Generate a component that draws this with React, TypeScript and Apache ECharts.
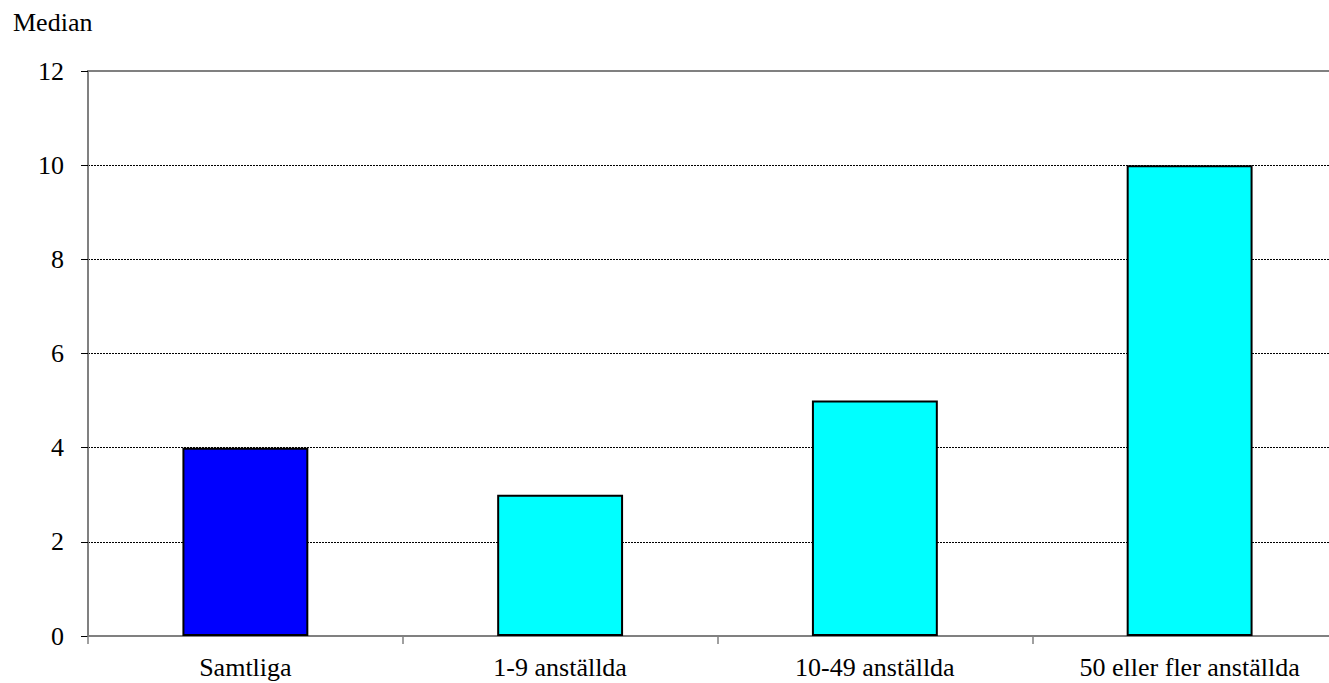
import React, { useEffect, useRef } from "react";
import * as echarts from "echarts";

const categories = ["Samtliga", "1-9 anställda", "10-49 anställda", "50 eller fler anställda"];
const values = [4, 3, 5, 10];
const barColors = ["#0000FF", "#00FFFF", "#00FFFF", "#00FFFF"];
const yTitle = "Median";

const FONT = "Liberation Serif";
const FONT_SIZE = 26;
const FONT_CSS = `font-size:${FONT_SIZE}px;font-family:'Liberation Serif',serif;`;

export default function App() {
  const ref = useRef<HTMLDivElement>(null);
  useEffect(() => {
    const chart = echarts.init(ref.current!, undefined, { renderer: "svg" });
    chart.setOption({
      animation: false,
      backgroundColor: "#ffffff",
      title: {
        text: yTitle,
        left: 13,
        top: 9,
        padding: 0,
        textStyle: { fontFamily: FONT, fontSize: FONT_SIZE, fontWeight: "normal", color: "#000" },
      },
      grid: {
        left: 88,
        top: 71,
        right: -18,
        bottom: 47,
        show: true,
        borderColor: "#808080",
        borderWidth: 2,
        outerBoundsMode: "none",
        containLabel: false,
      },
      xAxis: {
        type: "category",
        data: categories,
        axisLine: { lineStyle: { color: "#808080", width: 2 } },
        axisTick: { show: true, length: 8, lineStyle: { color: "#808080", width: 1.5 } },
        axisLabel: { color: "#000", fontFamily: FONT, fontSize: FONT_SIZE, margin: 18 },
      },
      yAxis: {
        type: "value",
        min: 0,
        max: 12,
        interval: 2,
        axisLine: { show: true, lineStyle: { color: "#808080", width: 2 } },
        axisTick: { show: true, length: 7, lineStyle: { color: "#000", width: 1 } },
        axisLabel: { color: "#000", fontFamily: FONT, fontSize: FONT_SIZE, margin: 24 },
        splitLine: {
          show: true,
          showMinLine: false,
          showMaxLine: false,
          lineStyle: { color: "#000", type: [2, 1], width: 1 },
        },
      },
      series: [
        {
          type: "bar",
          data: values.map((v, i) => ({
            value: v,
            itemStyle: { color: barColors[i], borderColor: "#000", borderWidth: 2 },
          })),
          barWidth: "40%",
        },
      ],
    });
    const el = ref.current!;
    const fixFonts = () => {
      el.querySelectorAll("text").forEach((t) => {
        if (t.getAttribute("style") !== FONT_CSS) t.setAttribute("style", FONT_CSS);
      });
    };
    fixFonts();
    const obs = new MutationObserver(() => fixFonts());
    obs.observe(el, { subtree: true, childList: true, attributes: true, attributeFilter: ["style"] });
    chart.on("finished", fixFonts);
    const timers = [0, 20, 100, 300].map((ms) => setTimeout(fixFonts, ms));
    return () => {
      obs.disconnect();
      timers.forEach(clearTimeout);
      chart.dispose();
    };
  }, []);
  return (
    <div
      ref={ref}
      style={{ position: "fixed", left: 0, top: 0, width: 1329, height: 683 }}
    />
  );
}
